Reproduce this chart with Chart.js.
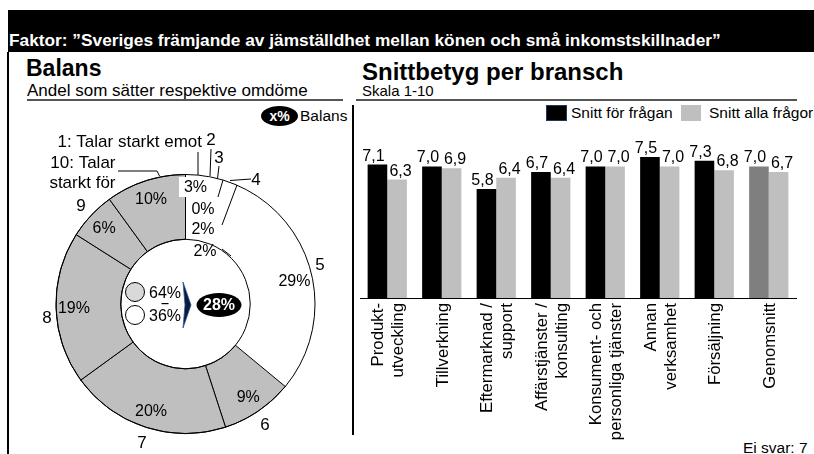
<!DOCTYPE html>
<html><head><meta charset="utf-8">
<script src="https://cdn.jsdelivr.net/npm/chart.js@4.4.0/dist/chart.umd.min.js"></script>
<style>
body{margin:0;width:814px;height:454px;position:relative;overflow:hidden;background:#fff;font-family:"Liberation Sans",Arial,sans-serif;color:#000}
.abs{position:absolute;white-space:nowrap}
canvas{position:absolute}
</style></head><body>
<div class="abs" style="left:8px;top:10px;width:806px;height:42px;background:#000"></div>
<div class="abs" style="left:9px;top:30px;color:#fff;font-weight:bold;font-size:17.3px;line-height:20px">Faktor: ”Sveriges främjande av jämställdhet mellan könen och små inkomstskillnader”</div>
<div class="abs" style="left:7px;top:52px;width:2px;height:402px;background:#000"></div>
<div class="abs" style="left:26px;top:55px;font-weight:bold;font-size:23px;line-height:26px">Balans</div>
<div class="abs" style="left:27px;top:81px;font-size:17px;line-height:19px">Andel som sätter respektive omdöme</div>
<div class="abs" style="left:27px;top:99px;width:316px;height:1.5px;background:#555"></div>
<div class="abs" style="left:362px;top:58px;font-weight:bold;font-size:24px;line-height:27px">Snittbetyg per bransch</div>
<div class="abs" style="left:362px;top:82px;font-size:15px;line-height:18px">Skala 1-10</div>
<div class="abs" style="left:356px;top:99px;width:441px;height:1.5px;background:#555"></div>
<div class="abs" style="left:352px;top:105px;width:1.5px;height:330px;background:#000"></div>
<div class="abs" style="left:261px;top:106px;width:37px;height:20px;border-radius:50%;background:#000;color:#fff;font-weight:bold;font-size:14px;line-height:20px;text-align:center">x%</div>
<div class="abs" style="left:300px;top:107px;font-size:15.5px;line-height:18px">Balans</div>
<div class="abs" style="left:546px;top:105px;width:19px;height:14px;background:#000;border:1px solid #1f3864"></div>
<div class="abs" style="left:571px;top:104px;font-size:15.5px;line-height:18px">Snitt för frågan</div>
<div class="abs" style="left:681px;top:105px;width:20px;height:16px;background:#bfbfbf"></div>
<div class="abs" style="left:709px;top:104px;font-size:15.5px;line-height:18px">Snitt alla frågor</div>
<div class="abs" style="left:743px;top:439px;font-size:15.5px;line-height:18px">Ei svar: 7</div>
<canvas id="donut" width="340" height="351" style="left:10px;top:103px;width:340px;height:351px"></canvas>
<canvas id="bars" width="460" height="351" style="left:354px;top:103px;width:460px;height:351px"></canvas>
<script>
// ---- Data ----
const scoreLabels = ['1: Talar starkt emot', '2', '3', '4', '5', '6', '7', '8', '9', '10: Talar starkt för'];
const shares = [3, 0, 2, 2, 29, 9, 20, 19, 6, 10];
const positiveShare = 64;
const negativeShare = 36;
const balance = 28;

const industries = [
  ['Produkt-', 'utveckling'],
  'Tillverkning',
  ['Eftermarknad /', 'support'],
  ['Affärstjänster /', 'konsulting'],
  ['Konsument- och', 'personliga tjänster'],
  ['Annan', 'verksamhet'],
  'Försäljning',
  'Genomsnitt'
];
const questionAvg = [7.1, 7.0, 5.8, 6.7, 7.0, 7.5, 7.3, 7.0];
const allQuestionsAvg = [6.3, 6.9, 6.4, 6.4, 7.0, 7.0, 6.8, 6.7];
const seriesNames = ['Snitt för frågan', 'Snitt alla frågor'];

const FONT = '"Liberation Sans", Arial, sans-serif';
const pct = v => v + '%';
const dec = v => v.toFixed(1).replace('.', ',');

// ---- Donut ----
const GRAY = '#bfbfbf';
const isPositive = i => i >= 5;

const donutLabels = {
  id: 'donutLabels',
  afterDatasetsDraw(chart) {
    const ctx = chart.ctx;
    const arcs = chart.getDatasetMeta(0).data;
    const a0 = arcs[0];
    const cx = a0.x, cy = a0.y, R = a0.outerRadius, r = a0.innerRadius;
    ctx.save();
    ctx.strokeStyle = '#000';
    ctx.lineWidth = 1;
    ctx.beginPath(); ctx.arc(cx, cy, R, 0, Math.PI * 2); ctx.stroke();
    ctx.beginPath(); ctx.arc(cx, cy, r, 0, Math.PI * 2); ctx.stroke();

    // leader lines (offsets from center)
    const leaders = [
      [[12.5, -152], [12.5, -129]],
      [[25.5, -155], [24.5, -128]],
      [[33.5, -138], [32, -125.5]],
      [[44.5, -123.5], [65.5, -125]],
      [[37.5, -124], [32.5, -107]],
      [[51.5, -119], [36.5, -79]],
      [[36.5, -55], [45.5, -48]],
      [[-67.5, -133], [-28.5, -133], [-26, -128]]
    ];
    ctx.beginPath();
    leaders.forEach(pts => {
      ctx.moveTo(cx + pts[0][0], cy + pts[0][1]);
      for (let k = 1; k < pts.length; k++) ctx.lineTo(cx + pts[k][0], cy + pts[k][1]);
    });
    ctx.stroke();

    ctx.fillStyle = '#000';
    ctx.textBaseline = 'middle';
    ctx.font = '16px ' + FONT;
    ctx.textAlign = 'center';
    // percent labels of large slices along mid angle
    arcs.forEach((arc, i) => {
      if (i < 4) return;
      const mid = (arc.startAngle + arc.endAngle) / 2;
      const rr = R * 0.862;
      ctx.fillText(pct(shares[i]), cx + Math.cos(mid) * rr, cy + Math.sin(mid) * rr + 1.5);
    });
    // small slices stacked
    ctx.fillStyle = '#fff';
    ctx.fillRect(cx - 6.5, cy - 127, 30, 20);
    ctx.fillStyle = '#000';
    const smallPos = [[10, -116], [17.5, -94], [17.5, -74], [19.5, -52]];
    smallPos.forEach((p, i) => ctx.fillText(pct(shares[i]), cx + p[0], cy + p[1]));

    // category labels
    ctx.font = '17px ' + FONT;
    const catPos = [null, [25.5, -164], [33.5, -146], [70.5, -124], [134.5, -39], [79.5, 121], [-43.5, 139], [-138.5, 14], [-104.5, -98], null];
    catPos.forEach((p, i) => { if (p) ctx.fillText(scoreLabels[i], cx + p[0], cy + p[1]); });
    ctx.textAlign = 'right';
    ctx.fillText(scoreLabels[0], cx + 16.5, cy - 162);
    const ten = scoreLabels[9].split(' ');
    ctx.fillText(ten.slice(0, 2).join(' '), cx - 70, cy - 141);
    ctx.fillText(ten.slice(2).join(' '), cx - 70, cy - 121);

    // center: split and balance
    ctx.lineWidth = 1;
    ctx.fillStyle = '#d9d9d9';
    ctx.beginPath(); ctx.arc(cx - 50.5, cy - 12, 9.5, 0, Math.PI * 2); ctx.fill(); ctx.stroke();
    ctx.fillStyle = '#fff';
    ctx.beginPath(); ctx.arc(cx - 50.5, cy + 11, 9.5, 0, Math.PI * 2); ctx.fill(); ctx.stroke();
    ctx.fillStyle = '#000';
    ctx.textAlign = 'center';
    ctx.font = '16px ' + FONT;
    ctx.fillText(pct(positiveShare), cx - 20.5, cy - 10.5);
    ctx.fillText(pct(negativeShare), cx - 20.5, cy + 13);
    ctx.fillRect(cx - 24, cy - 1, 7, 1.2);
    // chevron
    ctx.fillStyle = '#0d1a3a';
    ctx.beginPath();
    ctx.moveTo(cx - 2.5, cy - 22);
    ctx.lineTo(cx + 5.5, cy + 1);
    ctx.lineTo(cx - 2.5, cy + 24);
    ctx.lineTo(cx - 0.5, cy + 1);
    ctx.closePath(); ctx.fill();
    ctx.strokeStyle = '#2f5597'; ctx.lineWidth = 0.8; ctx.stroke();
    // balance ellipse
    ctx.fillStyle = '#000';
    ctx.beginPath(); ctx.ellipse(cx + 33.5, cy + 1, 22.5, 12, 0, 0, Math.PI * 2); ctx.fill();
    ctx.fillStyle = '#fff';
    ctx.font = 'bold 16px ' + FONT;
    ctx.fillText(pct(balance), cx + 33.5, cy + 1.5);
    ctx.restore();
  }
};

new Chart(document.getElementById('donut'), {
  type: 'doughnut',
  data: {
    labels: scoreLabels,
    datasets: [{
      data: shares,
      backgroundColor: shares.map((v, i) => isPositive(i) ? GRAY : '#fff'),
      borderColor: '#000',
      borderWidth: shares.map((v, i) => isPositive(i) ? 1 : 0)
    }]
  },
  options: {
    responsive: false, animation: false, devicePixelRatio: 1,
    cutout: '50%',
    layout: { padding: { left: 45.5, right: 34.5, top: 71, bottom: 20 } },
    plugins: { legend: { display: false }, tooltip: { enabled: false } }
  },
  plugins: [donutLabels]
});

// ---- Bars ----
const TICK_FONT = 16.8, TICK_LH = 20;
const barLabels = {
  id: 'barLabels',
  afterDatasetsDraw(chart) {
    const ctx = chart.ctx;
    ctx.save();
    ctx.fillStyle = '#000';
    ctx.font = '16px ' + FONT;
    ctx.textAlign = 'center';
    ctx.textBaseline = 'alphabetic';
    chart.data.datasets.forEach((ds, di) => {
      const shift = di === 0 ? -4 : 3.5;
      chart.getDatasetMeta(di).data.forEach((el, i) => {
        ctx.fillText(dec(ds.data[i]), el.x + shift, el.y - 4);
      });
    });
    // rotated category labels, each block centred on its tick
    const xs = chart.scales.x;
    ctx.font = TICK_FONT + 'px ' + FONT;
    ctx.textAlign = 'right';
    ctx.textBaseline = 'middle';
    chart.data.labels.forEach((lab, i) => {
      const lines = Array.isArray(lab) ? lab : [lab];
      const px = xs.getPixelForTick(i) + 1.5;
      lines.forEach((ln, k) => {
        ctx.save();
        ctx.translate(px + (k - (lines.length - 1) / 2) * TICK_LH, xs.top + 5);
        ctx.rotate(-Math.PI / 2);
        ctx.fillText(ln, 0, 0);
        ctx.restore();
      });
    });
    ctx.restore();
  }
};

new Chart(document.getElementById('bars'), {
  type: 'bar',
  data: {
    labels: industries,
    datasets: [
      { label: seriesNames[0], data: questionAvg,
        backgroundColor: questionAvg.map((v, i) => i === industries.length - 1 ? '#7f7f7f' : '#000') },
      { label: seriesNames[1], data: allQuestionsAvg, backgroundColor: '#bfbfbf' }
    ]
  },
  options: {
    responsive: false, animation: false, devicePixelRatio: 1,
    layout: { padding: { left: 6, right: 18, top: 7, bottom: 6 } },
    datasets: { bar: { categoryPercentage: 0.72, barPercentage: 1 } },
    plugins: { legend: { display: false }, tooltip: { enabled: false } },
    scales: {
      x: {
        grid: { display: false, drawTicks: false },
        border: { display: true, color: '#000', width: 1 },
        ticks: { display: false },
        afterFit: s => { s.height = 150; s.paddingLeft = 0; s.paddingRight = 0; }
      },
      y: { display: false, min: 0, max: 10 }
    }
  },
  plugins: [barLabels]
});
</script>
</body></html>
